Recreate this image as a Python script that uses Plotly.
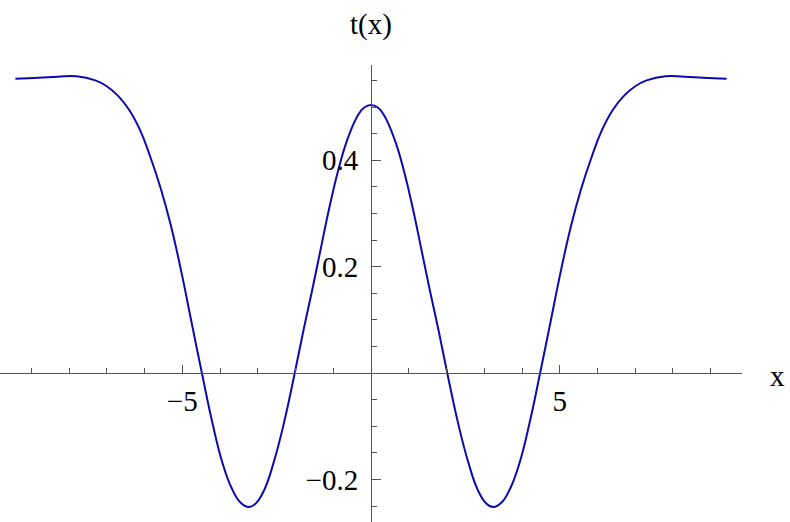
import plotly.graph_objects as go

# curve t(x) (x runs from -3pi to 3pi)
x_vals = [
    -9.42, -8.80, -8.30, -7.80, -7.30, -7.00, -6.70, -6.40, -6.12, -5.85,
    -5.57, -5.30, -5.03, -4.75, -4.48, -4.20, -3.93, -3.68, -3.45, -3.24,
    -3.05, -2.83, -2.57, -2.30, -2.02, -1.79, -1.57, -1.35, -1.10, -0.88,
    -0.62, -0.35, -0.18, 0.00,
    0.18, 0.35, 0.62, 0.88, 1.10, 1.35, 1.57, 1.79, 2.02, 2.30, 2.57,
    2.83, 3.05, 3.24, 3.45, 3.68, 3.93, 4.20, 4.48, 4.75, 5.03,
    5.30, 5.57, 5.85, 6.12, 6.40, 6.70, 7.00, 7.30, 7.80, 8.30,
    8.80, 9.42,
]
t_vals = [
    0.553, 0.555, 0.557, 0.558, 0.550, 0.539, 0.521, 0.494, 0.457, 0.407,
    0.347, 0.277, 0.192, 0.094, 0.000, -0.094, -0.170, -0.218, -0.244, -0.252,
    -0.245, -0.220, -0.166, -0.092, 0.000, 0.080, 0.152, 0.227, 0.312, 0.378,
    0.440, 0.484, 0.499, 0.504,
    0.499, 0.484, 0.440, 0.378, 0.312, 0.227, 0.152, 0.080, 0.000, -0.092, -0.166,
    -0.220, -0.245, -0.252, -0.244, -0.218, -0.170, -0.094, 0.000, 0.094, 0.192,
    0.277, 0.347, 0.407, 0.457, 0.494, 0.521, 0.539, 0.550, 0.558, 0.557,
    0.555, 0.553,
]

x_major = [-5, 5]
x_major_text = ["\u22125", "5"]
x_minor = [-9, -8, -7, -6, -4, -3, -2, -1, 1, 2, 3, 4, 6, 7, 8, 9]

y_major = [-0.2, 0.2, 0.4]
y_major_text = ["\u22120.2", "0.2", "0.4"]
y_minor = [-0.25, -0.15, -0.1, -0.05, 0.05, 0.1, 0.15, 0.25, 0.3, 0.35, 0.45, 0.5, 0.55]

x_range = [-9.828, 9.828]
y_range = [-0.280, 0.579]

FONT = "Liberation Serif, Times New Roman, serif"
AXIS_GREY = "#555555"

fig = go.Figure()

fig.add_trace(
    go.Scatter(
        x=x_vals, y=t_vals, mode="lines",
        line=dict(color="#0b0bb0", width=2, shape="spline", smoothing=1.3),
        hoverinfo="skip", showlegend=False,
    )
)

# axes cross at the origin, Mathematica style
y_pos = (0 - y_range[0]) / (y_range[1] - y_range[0])
x_pos = (0 - x_range[0]) / (x_range[1] - x_range[0])

fig.update_xaxes(
    range=x_range, anchor="free", position=y_pos,
    showgrid=False, zeroline=False,
    showline=True, linecolor=AXIS_GREY, linewidth=1,
    tickmode="array", tickvals=x_major, ticktext=x_major_text,
    ticks="inside", ticklen=8, tickcolor=AXIS_GREY, tickwidth=1,
    ticklabelstandoff=2,
    minor=dict(tickmode="array", tickvals=x_minor, ticks="inside",
               ticklen=5, tickcolor=AXIS_GREY, tickwidth=1, showgrid=False),
    tickfont=dict(family=FONT, size=29, color="black"),
    automargin=False,
)
fig.update_yaxes(
    range=y_range, anchor="free", position=x_pos,
    showgrid=False, zeroline=False,
    showline=True, linecolor=AXIS_GREY, linewidth=1,
    tickmode="array", tickvals=y_major, ticktext=y_major_text,
    ticks="inside", ticklen=9, tickcolor=AXIS_GREY, tickwidth=1,
    ticklabelstandoff=7,
    minor=dict(tickmode="array", tickvals=y_minor, ticks="inside",
               ticklen=5, tickcolor=AXIS_GREY, tickwidth=1, showgrid=False),
    tickfont=dict(family=FONT, size=29, color="black"),
    automargin=False,
)

# axis labels
fig.add_annotation(
    text="t(x)", xref="paper", yref="paper", x=0.5, y=1.089,
    xanchor="center", yanchor="middle", showarrow=False,
    font=dict(family=FONT, size=29, color="black"),
)
fig.add_annotation(
    text="x", xref="paper", yref="paper", x=1.0485, y=0.3195,
    xanchor="center", yanchor="middle", showarrow=False,
    font=dict(family=FONT, size=29, color="black"),
)

fig.update_layout(
    width=790, height=522,
    margin=dict(l=0, r=48, t=65, b=0),
    paper_bgcolor="white", plot_bgcolor="white",
)

# drop the default page margin so the figure sits flush in the window
fig.write_html(
    "out.html",
    config={"displayModeBar": False},
    post_script="document.body.style.margin='0';",
)
